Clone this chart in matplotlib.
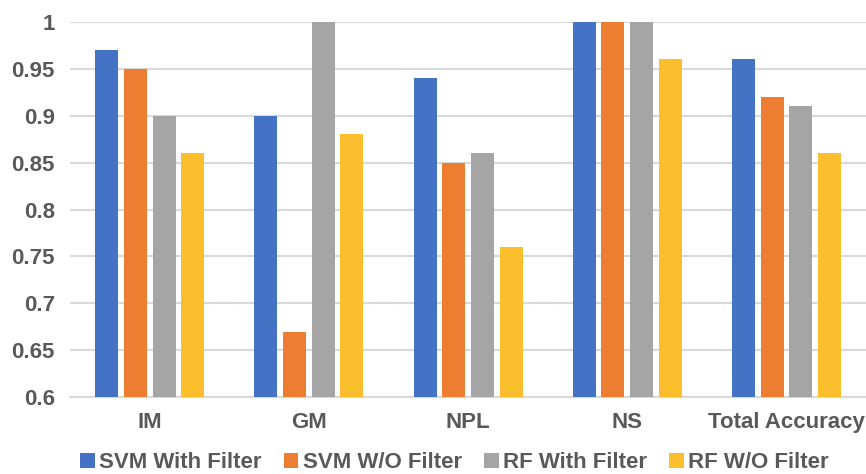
import numpy as np
import matplotlib.pyplot as plt

categories = ["IM", "GM", "NPL", "NS", "Total Accuracy"]
series_names = ["SVM With Filter", "SVM W/O Filter", "RF With Filter", "RF W/O Filter"]
svm_filter = [0.97, 0.90, 0.94, 1.00, 0.96]
svm_nofilter = [0.95, 0.67, 0.85, 1.00, 0.92]
rf_filter = [0.90, 1.00, 0.86, 1.00, 0.91]
rf_nofilter = [0.86, 0.88, 0.76, 0.96, 0.86]
yticks = [0.6, 0.65, 0.7, 0.75, 0.8, 0.85, 0.9, 0.95, 1.0]
ytick_labels = ["0.6", "0.65", "0.7", "0.75", "0.8", "0.85", "0.9", "0.95", "1"]

colors = ["#4472C4", "#ED7D31", "#A5A5A5", "#FBBF2D"]
txt = "#595959"

plt.rcParams['font.family'] = ['Liberation Sans', 'DejaVu Sans']

fig = plt.figure(figsize=(8.66, 4.74), dpi=100)
ax = fig.add_axes([0.081, 0.162, 0.919, 0.792])

x = np.arange(len(categories))
width = 0.145
step = 0.18
data = [svm_filter, svm_nofilter, rf_filter, rf_nofilter]
for i, vals in enumerate(data):
    ax.bar(x + (i - 1.5) * step, np.array(vals) - 0.6, width, bottom=0.6,
           color=colors[i], label=series_names[i], zorder=3)

ax.set_xlim(-0.5, len(categories) - 0.5)
ax.set_ylim(0.6, 1.0)
ax.set_yticks(yticks)
ax.set_yticklabels(ytick_labels, fontweight='bold', fontsize=16)
ax.set_xticks(x)
ax.set_xticklabels(categories, fontweight='bold', fontsize=16)
ax.grid(axis='y', color='#D9D9D9', linewidth=1.5, zorder=0)
for s in ['top', 'right', 'left']:
    ax.spines[s].set_visible(False)
ax.spines['bottom'].set_color('#D9D9D9')
ax.spines['bottom'].set_linewidth(1.5)
ax.tick_params(axis='both', length=0, colors=txt)
ax.tick_params(axis='x', pad=11)
ax.tick_params(axis='y', pad=11)

fig.legend(loc='lower center', bbox_to_anchor=(0.525, -0.04), ncol=4, frameon=False,
           prop={'weight': 'bold', 'size': 16}, labelcolor=txt,
           handlelength=0.65, handleheight=0.65, handletextpad=0.2, columnspacing=1.0)

fig.savefig("out.png", dpi=100)
